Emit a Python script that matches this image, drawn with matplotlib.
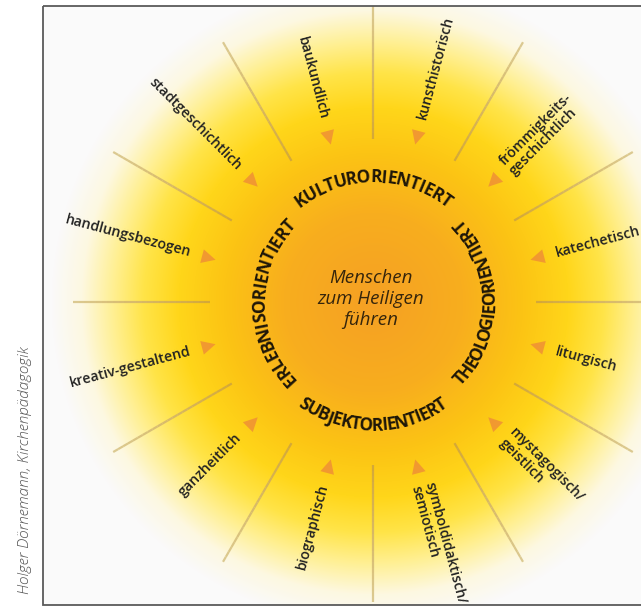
import numpy as np
import matplotlib.pyplot as plt
from matplotlib.patches import Polygon, Rectangle
from matplotlib.font_manager import FontProperties

# Labels around the sun (clockwise, starting top right)
labels = ['kunsthistorisch', 'frömmigkeits-\ngeschichtlich', 'katechetisch',
          'liturgisch', 'mystagogisch/\ngeistlich', 'symboldidaktisch/\nsemiotisch',
          'biographisch', 'ganzheitlich', 'kreativ-gestaltend',
          'handlungsbezogen', 'stadtgeschichtlich', 'baukundlich']
label_angles = [75, 45, 15, -15, -45, -75, -105, -135, -165, 165, 135, 105]
ray_angles = [90, 60, 30, 0, -30, -60, -90, -120, -150, 180, 150, 120]

ring_words = ['KULTURORIENTIERT', 'THEOLOGIEORIENTIERT', 'SUBJEKTORIENTIERT', 'ERLEBNISORIENTIERT']
ring_mid = [90, 0, -90, 180]

center_text = 'Menschen\nzum Heiligen\nführen'
credit = 'Holger Dörnemann, Kirchenpädagogik'

W, H = 641, 611
cx, cy = 373, 302

fig = plt.figure(figsize=(W / 100, H / 100), dpi=100)
ax = fig.add_axes([0, 0, 1, 1])
ax.set_xlim(0, W)
ax.set_ylim(H, 0)
ax.axis('off')

frame = Rectangle((43, 6), 640, 599, fill=False, edgecolor='#5a5a5a', lw=1.3, zorder=10)
ax.add_patch(frame)
clip = Rectangle((43, 6), 640, 599, transform=ax.transData, visible=False)
ax.add_patch(clip)

# sun glow
yy, xx = np.mgrid[0:H, 0:W]
rr = np.hypot(xx - cx, yy - cy)
stops = [0, 90, 150, 195, 230, 262, 292, 322]
reds = [245, 248, 252, 255, 255, 255, 253, 250]
greens = [160, 174, 196, 214, 228, 240, 248, 250]
blues = [36, 30, 20, 26, 72, 150, 225, 250]
img = np.dstack([np.interp(rr, stops, c) for c in (reds, greens, blues)]) / 255
im = ax.imshow(img, extent=(0, W, H, 0), zorder=0, interpolation='bilinear')
im.set_clip_path(clip)

# rays
for a in ray_angles:
    t = np.deg2rad(a)
    rs = np.linspace(163, 300, 25)
    for k in range(len(rs) - 1):
        f = k / (len(rs) - 2)
        col = (0.83 + 0.03 * f, 0.66 + 0.13 * f, 0.22 + 0.35 * f)
        ln, = ax.plot([cx + rs[k] * np.cos(t), cx + rs[k + 1] * np.cos(t)],
                      [cy - rs[k] * np.sin(t), cy - rs[k + 1] * np.sin(t)],
                      color=col, lw=1.6, solid_capstyle='butt', zorder=2)
        ln.set_clip_path(clip)

# arrow heads pointing inward
for a in label_angles:
    t = np.deg2rad(a)
    n = np.array([-np.sin(t), -np.cos(t)])
    tip = np.array([cx + 163 * np.cos(t), cy - 163 * np.sin(t)])
    base = np.array([cx + 177 * np.cos(t), cy - 177 * np.sin(t)])
    tri = Polygon([tip, base + 7 * n, base - 7 * n], closed=True,
                  facecolor='#ef9035', edgecolor='none', alpha=0.85, zorder=3)
    ax.add_patch(tri)

# outer labels
lab_font = FontProperties(family='Open Sans', weight='semibold', size=10.2)
for lab, a in zip(labels, label_angles):
    t = np.deg2rad(a)
    x, y = cx + 189 * np.cos(t), cy - 189 * np.sin(t)
    if np.cos(t) >= 0:
        ax.text(x, y, lab, rotation=a, ha='left', va='center', rotation_mode='anchor',
                fontproperties=lab_font, color='#222222', multialignment='left',
                linespacing=1.05, zorder=5)
    else:
        ax.text(x, y, lab, rotation=a - 180, ha='right', va='center', rotation_mode='anchor',
                fontproperties=lab_font, color='#222222', linespacing=1.05, zorder=5)

# ring words along the circle, letters on a common baseline
ring_font = FontProperties(family='Open Sans', weight='bold', size=12.5)
renderer = fig.canvas.get_renderer()
cap = renderer.get_text_width_height_descent('H', ring_font, ismath=False)[1]
ring_r = [126, 115, 122, 115]
ring_dir = [-1, 1, 1, -1]
track = 0.93
for word, mid, r, d in zip(ring_words, ring_mid, ring_r, ring_dir):
    widths = [renderer.get_text_width_height_descent(word[:i], ring_font, ismath=False)[0] if i else 0
              for i in range(len(word) + 1)]
    total = widths[-1] * track
    rb = r - cap / 2 if d < 0 else r + cap / 2
    for i, ch in enumerate(word):
        s = track * (widths[i] + widths[i + 1]) / 2 - total / 2
        th = np.deg2rad(mid) + d * s / rb
        rot = np.rad2deg(th) + (90 if d > 0 else -90)
        ax.text(cx + rb * np.cos(th), cy - rb * np.sin(th), ch, rotation=rot,
                ha='center', va='baseline', rotation_mode='anchor',
                fontproperties=ring_font, color='#1e1608', zorder=5)

ax.text(371, 299, center_text, ha='center', va='center', fontsize=13.5,
        family='Open Sans', style='italic', color='#35250c', linespacing=1.2, zorder=5)

ax.text(25, 594, credit, rotation=90, ha='left', va='center', rotation_mode='anchor',
        fontsize=11, family='Open Sans', style='italic', weight='light', color='#555555')

fig.savefig('out.png', dpi=100)
